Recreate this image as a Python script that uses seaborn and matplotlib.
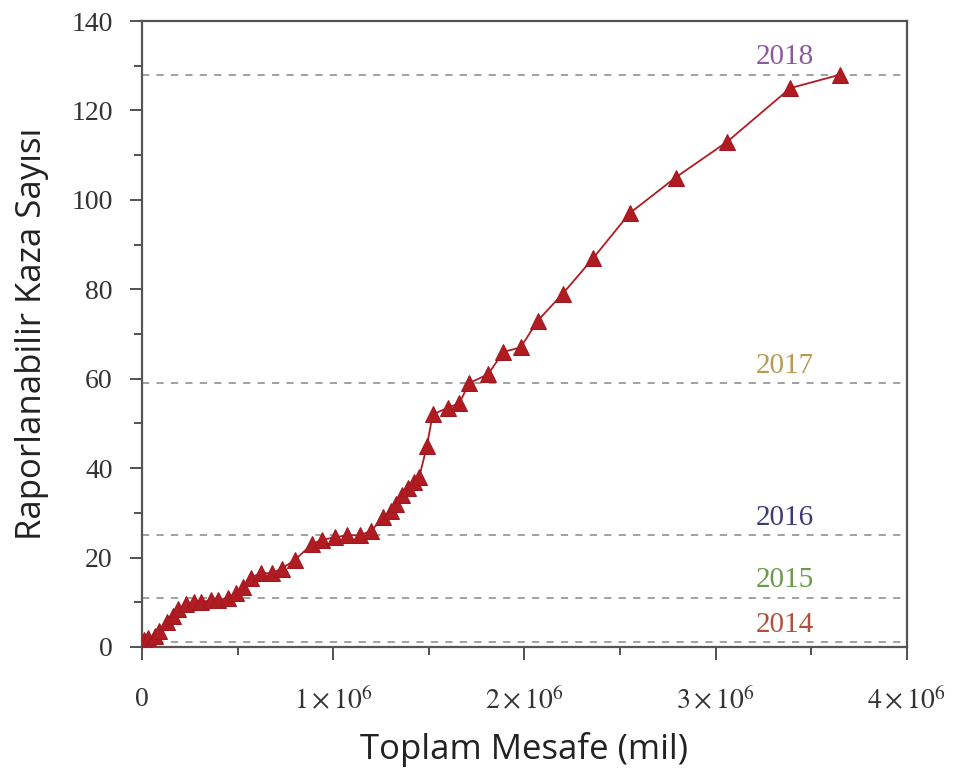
import numpy as np
import pandas as pd
import matplotlib
matplotlib.use('Agg')
import matplotlib.pyplot as plt
from matplotlib.ticker import MultipleLocator
import seaborn as sns

# cumulative distance (miles) and reportable crashes
mesafe = [0.01, 0.03, 0.07, 0.09, 0.13, 0.16, 0.19, 0.23, 0.27, 0.31,
          0.36, 0.40, 0.45, 0.49, 0.53, 0.57, 0.62, 0.68, 0.73, 0.80,
          0.89, 0.94, 1.01, 1.07, 1.14, 1.20, 1.26, 1.30, 1.33, 1.36,
          1.39, 1.42, 1.45, 1.49, 1.52, 1.60, 1.66, 1.71, 1.81, 1.89,
          1.98, 2.07, 2.20, 2.36, 2.55, 2.79, 3.06, 3.39, 3.65]
kaza = [1.5, 2, 2.5, 3.5, 5.5, 7, 8.5, 9.5, 10, 10,
        10.5, 10.5, 11, 12, 13.5, 15.5, 16.5, 16.5, 17.5, 19.5,
        23, 24, 24.5, 25, 25, 26, 29, 30.5, 32, 34,
        35.5, 37, 38, 45, 52, 53.5, 54.5, 59, 61, 66,
        67, 73, 79, 87, 97, 105, 113, 125, 128]

# year-end levels
yillar = ['2014', '2015', '2016', '2017', '2018']
yil_seviye = [1, 11, 25, 59, 128]
yil_renk = ['#b0503a', '#6a9a4a', '#3d3a78', '#b89a55', '#8a5a9a']

xtick_vals = [0, 1e6, 2e6, 3e6, 4e6]
xtick_labels = ['0', r'$1\times10^{6}$', r'$2\times10^{6}$', r'$3\times10^{6}$', r'$4\times10^{6}$']

df = pd.DataFrame({'Mesafe': np.array(mesafe) * 1e6, 'Kaza': kaza})

sns.set_style('white')
plt.rcParams['mathtext.fontset'] = 'stix'

fig = plt.figure(figsize=(9.56, 7.79), dpi=100)
ax = fig.add_axes([0.1485, 0.1695, 0.8002, 0.8035])

for lvl in yil_seviye:
    ax.axhline(lvl, color='#9a9a9a', linestyle=(0, (4, 4)), linewidth=1.3, zorder=1)

sns.lineplot(data=df, x='Mesafe', y='Kaza', ax=ax, color='#b01c22', marker='^',
             markersize=12, markeredgecolor='#a01820', linewidth=1.3,
             estimator=None, sort=False, zorder=3)

for yil, lvl, c in zip(yillar, yil_seviye, yil_renk):
    ax.text(3.36e6, lvl + 1.0, yil, color=c, ha='center', va='bottom',
            fontsize=21, family='Liberation Serif')

ax.set_xlim(0, 4e6)
ax.set_ylim(0, 140)
ax.set_xticks(xtick_vals)
ax.set_xticklabels(xtick_labels)
ax.xaxis.set_minor_locator(MultipleLocator(0.5e6))
ax.yaxis.set_major_locator(MultipleLocator(20))
ax.yaxis.set_minor_locator(MultipleLocator(10))

ax.tick_params(axis='both', which='major', direction='out', length=9, width=1.3,
               color='#444444', labelsize=20, labelcolor='#333333')
ax.tick_params(axis='both', which='minor', direction='out', length=6, width=1.3,
               color='#444444')
ax.tick_params(axis='x', which='major', pad=20)
ax.tick_params(axis='y', which='major', pad=12)
ax.tick_params(top=False, right=False, which='both')
ax.tick_params(bottom=True, left=True, which='both')
for lab in ax.get_yticklabels() + ax.get_xticklabels():
    lab.set_family('Liberation Serif')

for sp in ax.spines.values():
    sp.set_color('#555555')
    sp.set_linewidth(1.6)

ax.set_xlabel('Toplam Mesafe (mil)', fontsize=25, family='Open Sans', color='#222222', labelpad=12)
ax.set_ylabel('Raporlanabilir Kaza Sayısı', fontsize=25, family='Open Sans', color='#222222', labelpad=16)

fig.savefig('out.png', dpi=100)
